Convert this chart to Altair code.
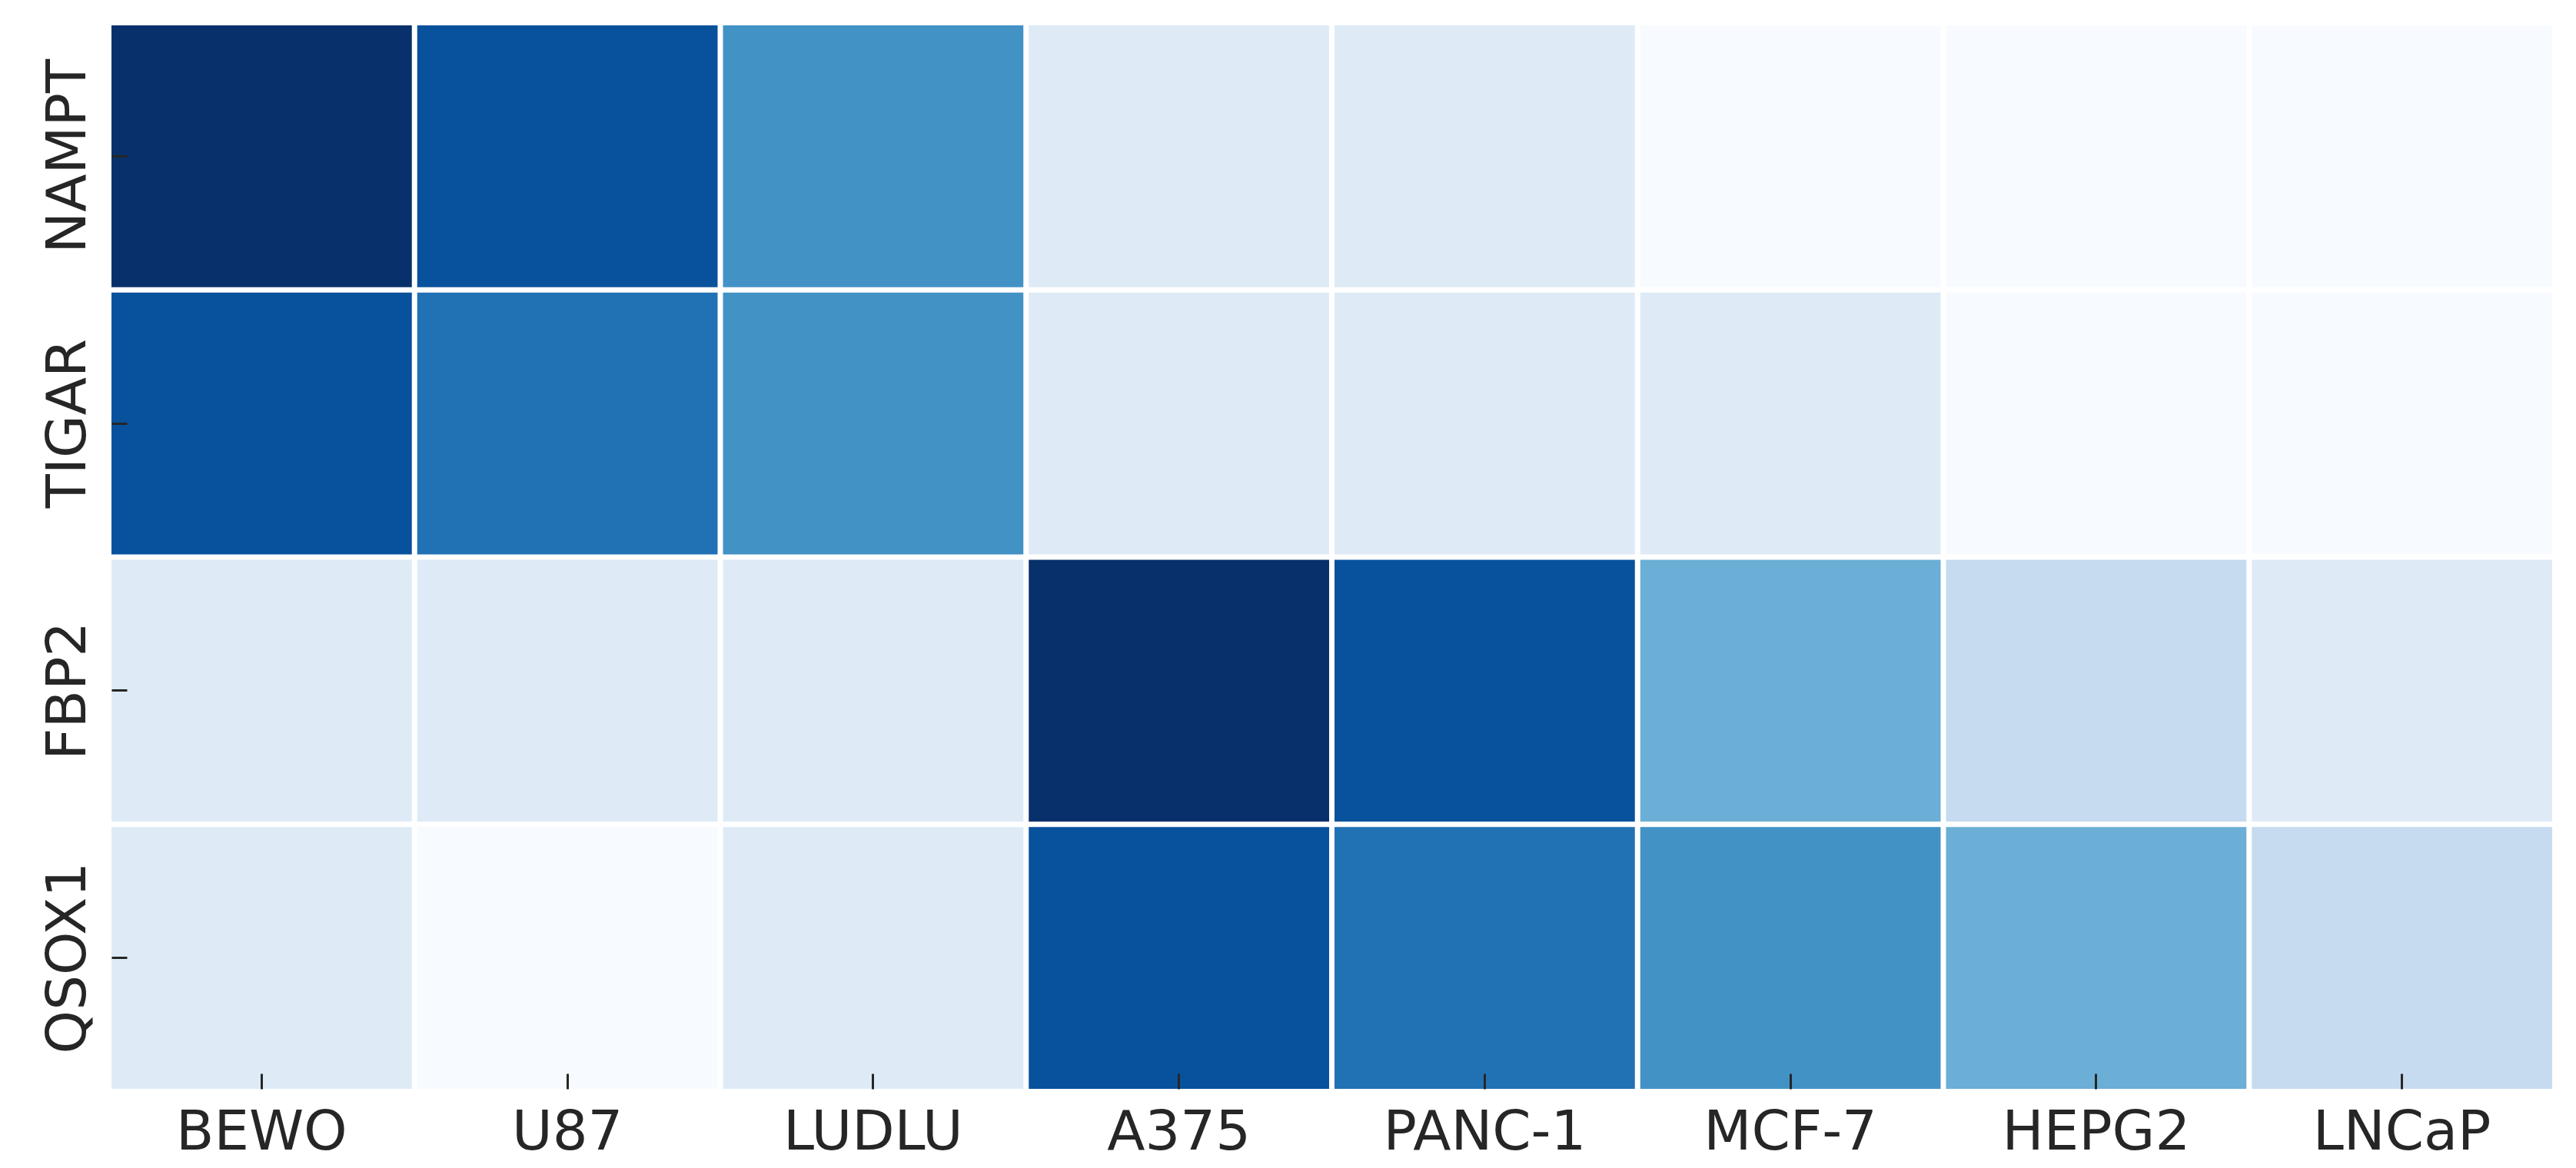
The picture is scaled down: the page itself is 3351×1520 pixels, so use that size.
import altair as alt
import pandas as pd

cell_lines = ["BEWO", "U87", "LUDLU", "A375", "PANC-1", "MCF-7", "HEPG2", "LNCaP"]
genes = ["NAMPT", "TIGAR", "FBP2", "QSOX1"]

nampt = [8, 7, 5, 1, 1, 0, 0, 0]
tigar = [7, 6, 5, 1, 1, 1, 0, 0]
fbp2 = [1, 1, 1, 8, 7, 4, 2, 1]
qsox1 = [1, 0, 1, 7, 6, 5, 4, 2]

blues = ["#f7fbff", "#deebf7", "#c6dbef", "#9ecae1", "#6baed6",
         "#4292c6", "#2171b5", "#08519c", "#08306b"]
levels = list(range(9))

rows = []
for g, vals in zip(genes, [nampt, tigar, fbp2, qsox1]):
    for c, v in zip(cell_lines, vals):
        rows.append({"gene": g, "cell": c, "value": v})
df = pd.DataFrame(rows)

W, H = 3175, 1384
FS = 72
txt = "#262626"

chart = alt.Chart(df).mark_rect().encode(
    x=alt.X("cell:N", sort=cell_lines, title=None,
            scale=alt.Scale(paddingInner=0.0176, paddingOuter=0),
            axis=alt.Axis(labelAngle=0, labelFontSize=FS, labelFont="DejaVu Sans",
                          labelColor=txt, tickColor=txt, tickWidth=3, tickSize=20,
                          offset=-20, labelPadding=21, domain=False, grid=False,
                          zindex=1, labelBaseline="top", labelLimit=0)),
    y=alt.Y("gene:N", sort=genes, title=None,
            scale=alt.Scale(paddingInner=0.0202, paddingOuter=0),
            axis=alt.Axis(labelAngle=270, labelFontSize=FS, labelFont="DejaVu Sans",
                          labelColor=txt, tickColor=txt, tickWidth=3, tickSize=20,
                          offset=-20, labelPadding=35, domain=False, grid=False,
                          zindex=1, labelAlign="center", labelBaseline="alphabetic",
                          labelLimit=0)),
    color=alt.Color("value:Q", scale=alt.Scale(domain=levels, range=blues), legend=None),
).properties(
    width=W, height=H,
    autosize=alt.AutoSizeParams(type="none"),
    padding={"left": 137, "top": 25, "right": 22, "bottom": 94},
).configure_view(stroke=None)

chart.save("out.html", embed_options={"renderer": "svg", "actions": False})
